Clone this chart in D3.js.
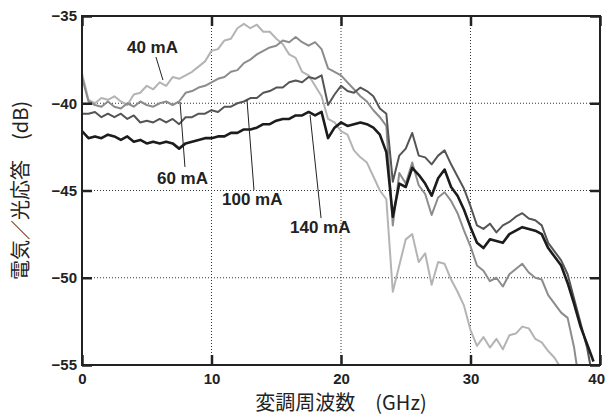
<!DOCTYPE html>
<html>
<head>
<meta charset="utf-8">
<script src="https://cdn.jsdelivr.net/npm/d3@7"></script>
<style>
  body { margin: 0; background: #fff; }
  .tick text { font-family: 'Liberation Sans', Arial, sans-serif; font-weight: bold; font-size: 15px; fill: #222; }
  .lbl { font-family: 'Liberation Sans', Arial, sans-serif; font-weight: bold; font-size: 17px; fill: #222; }
  .title { font-family: 'Noto Sans CJK JP', sans-serif; font-size: 20px; fill: #222; }
</style>
</head>
<body>
<div id="chart"></div>
<script>
var chart_width = 606
var chart_height = 415
var margin = {left: 82, right: 6, top: 16, bottom: 50}

// frequency grid, GHz
var freq = [0, 0.5, 1, 1.5, 2, 2.5, 3, 3.5, 4, 4.5, 5, 5.5, 6, 6.5, 7, 7.5, 8, 8.5, 9, 9.5,
  10, 10.5, 11, 11.5, 12, 12.5, 13, 13.5, 14, 14.5, 15, 15.5, 16, 16.5, 17, 17.5, 18, 18.5, 19, 19.5,
  20, 20.5, 21, 21.5, 22, 22.5, 23, 23.5, 24, 24.5, 25, 25.5, 26, 26.5, 27, 27.5, 28, 28.5, 29, 29.5,
  30, 30.5, 31, 31.5, 32, 32.5, 33, 33.5, 34, 34.5, 35, 35.5, 36, 36.5, 37, 37.5, 38, 38.5, 39, 39.5, 40]

// response in dB for each bias current
var ma40 = [-38.3, -39.8, -40.0, -39.7, -39.8, -39.6, -39.9, -40.1, -39.5, -39.4,
  -39.0, -39.2, -38.8, -39.0, -38.5, -38.6, -38.4, -38.2, -37.9, -37.6,
  -37.0, -36.9, -36.4, -36.3, -35.7, -35.45, -35.7, -35.5, -35.9, -35.9,
  -36.3, -36.6, -37.2, -37.4, -38.2, -38.4, -39.0, -39.6, -40.9, -41.1,
  -41.6, -41.8, -42.7, -43.1, -43.4, -44.2, -45.0, -45.5, -50.8, -49.3,
  -47.8, -47.5, -49.1, -48.6, -50.4, -49.1, -49.2, -50.1, -50.8, -51.6,
  -53.0, -53.9, -53.4, -54.0, -53.5, -54.1, -53.3, -53.2, -52.8, -52.9,
  -53.5, -53.7, -54.2, -54.6, -55.2, -56.0, null, null, null, null, null]

var ma60 = [-38.5, -39.9, -40.1, -40.2, -39.9, -40.2, -40.3, -40.0, -40.2, -39.9,
  -40.1, -40.2, -40.0, -39.9, -40.1, -39.9, -39.4, -39.3, -39.1, -39.0,
  -38.8, -38.6, -38.5, -38.2, -38.1, -37.7, -37.5, -37.2, -37.0, -36.8,
  -36.7, -36.4, -36.5, -36.2, -36.5, -36.7, -36.5, -36.9, -38.0, -38.2,
  -38.4, -38.8, -39.2, -39.6, -39.9, -40.4, -40.8, -41.3, -47.0, -44.0,
  -44.6, -43.4, -44.7, -45.2, -46.4, -45.4, -45.1, -45.6, -46.3, -47.3,
  -48.2, -49.3, -49.6, -50.2, -50.0, -50.5, -49.8, -49.5, -49.2, -49.7,
  -50.0, -50.1, -51.0, -51.5, -52.0, -52.3, -54.0, -56.5, null, null, null]

var ma100 = [-40.6, -40.6, -40.5, -40.8, -40.6, -40.8, -40.6, -40.9, -40.7, -41.1,
  -41.0, -41.1, -40.9, -41.1, -40.9, -41.2, -40.8, -40.8, -40.6, -40.6,
  -40.4, -40.5, -40.2, -40.2, -40.0, -39.9, -39.7, -39.7, -39.4, -39.3,
  -39.1, -39.1, -38.8, -38.7, -38.8, -38.5, -38.6, -38.4, -40.1, -39.5,
  -39.0, -39.3, -39.4, -39.1, -39.3, -39.6, -40.3, -40.6, -44.5, -43.0,
  -42.6, -41.7, -43.0, -43.1, -43.5, -43.0, -42.7, -43.5, -44.2, -44.9,
  -45.9, -47.0, -47.2, -46.9, -47.4, -47.0, -46.8, -46.5, -46.3, -46.6,
  -46.7, -47.0, -48.0, -48.5, -49.0, -49.8, -51.2, -52.6, -54.0, -56.0, null]

var ma140 = [-41.6, -42.0, -41.9, -42.0, -41.8, -41.9, -42.1, -41.9, -42.2, -42.1,
  -42.3, -42.2, -42.3, -42.2, -42.3, -42.6, -42.3, -42.2, -42.1, -42.0,
  -42.0, -41.9, -41.9, -41.7, -41.7, -41.5, -41.5, -41.4, -41.2, -41.2,
  -41.0, -40.9, -40.9, -40.7, -40.7, -40.5, -40.7, -40.5, -42.0, -41.4,
  -41.1, -41.3, -41.2, -41.1, -41.2, -41.4, -41.8, -42.8, -46.5, -44.6,
  -44.8, -43.7, -44.1, -44.6, -45.3, -44.3, -43.8, -44.8, -45.3, -46.1,
  -47.1, -48.0, -48.3, -47.8, -47.9, -48.0, -47.5, -47.3, -47.1, -47.2,
  -47.3, -47.5, -48.3, -48.8, -49.3, -50.3, -51.5, -52.8, -53.8, -54.8, null]

var series_names = ['40 mA', '60 mA', '100 mA', '140 mA']
var series_values = [ma40, ma60, ma100, ma140]
var series_colors = ['#b4b4b4', '#8c8c8c', '#555555', '#1c1c1c']
var series_widths = [2, 2, 2, 2.6]

var x_ticks = [0, 10, 20, 30, 40]
var y_ticks = [-55, -50, -45, -40, -35]

// label text position [GHz, dB] and leader line [GHz1, dB1, GHz2, dB2]
var label_pos = [[3.47, -37.12], [5.79, -44.63], [10.81, -45.83], [16.06, -47.44]]
var leader_pos = [[5.71, -37.35, 6.25, -38.67], [7.95, -43.65, 7.57, -39.93],
  [13.28, -44.97, 12.74, -39.81], [18.46, -46.58, 17.61, -40.67]]

var svg = d3.select('#chart')
  .append('svg')
  .attr('width', chart_width)
  .attr('height', chart_height)
  .style('background', '#fff')

var x_scale = d3.scaleLinear()
  .domain([0, 40])
  .range([margin.left, chart_width - margin.right])

var y_scale = d3.scaleLinear()
  .domain([-55, -35])
  .range([chart_height - margin.bottom, margin.top])

svg.append('clipPath')
  .attr('id', 'plot-clip')
  .append('rect')
  .attr('x', x_scale(0))
  .attr('y', y_scale(-35))
  .attr('width', x_scale(40) - x_scale(0))
  .attr('height', y_scale(-55) - y_scale(-35))

// dotted grid
svg.append('g')
  .selectAll('line')
  .data(x_ticks.slice(1, -1))
  .enter()
  .append('line')
  .attr('x1', d => x_scale(d))
  .attr('x2', d => x_scale(d))
  .attr('y1', y_scale(-55))
  .attr('y2', y_scale(-35))
  .attr('stroke', '#333')
  .attr('stroke-width', 1)
  .attr('stroke-dasharray', '1,2')

svg.append('g')
  .selectAll('line')
  .data(y_ticks.slice(1, -1))
  .enter()
  .append('line')
  .attr('x1', x_scale(0))
  .attr('x2', x_scale(40))
  .attr('y1', d => y_scale(d))
  .attr('y2', d => y_scale(d))
  .attr('stroke', '#333')
  .attr('stroke-width', 1)
  .attr('stroke-dasharray', '1,2')

// curves
var line = d3.line()
  .defined(d => d[1] !== null)
  .x(d => x_scale(d[0]))
  .y(d => y_scale(d[1]))

series_values.forEach(function(vals, i) {
  svg.append('path')
    .datum(freq.map((f, j) => [f, vals[j]]))
    .attr('clip-path', 'url(#plot-clip)')
    .attr('fill', 'none')
    .attr('stroke', series_colors[i])
    .attr('stroke-width', series_widths[i])
    .attr('stroke-linejoin', 'round')
    .attr('d', line)
})

// axes with inward ticks
var x_axis = d3.axisBottom(x_scale).tickValues(x_ticks).tickSize(-10).tickPadding(8)
svg.append('g')
  .attr('transform', 'translate(0, ' + y_scale(-55) + ')')
  .call(x_axis)
  .selectAll('text')
  .filter(d => d === 40)
  .attr('text-anchor', 'end')
  .attr('dx', '0.3em')

var y_axis = d3.axisLeft(y_scale).tickValues(y_ticks).tickSize(-10).tickPadding(5)
svg.append('g')
  .attr('transform', 'translate(' + x_scale(0) + ', 0)')
  .call(y_axis)

svg.append('g')
  .attr('transform', 'translate(0, ' + y_scale(-35) + ')')
  .call(d3.axisTop(x_scale).tickValues(x_ticks).tickSize(-10).tickFormat(''))

svg.append('g')
  .attr('transform', 'translate(' + x_scale(40) + ', 0)')
  .call(d3.axisRight(y_scale).tickValues(y_ticks).tickSize(-10).tickFormat(''))

svg.selectAll('.domain').remove()
svg.selectAll('.tick line')
  .attr('stroke', '#222')
  .attr('stroke-width', 2.5)

// frame
svg.append('rect')
  .attr('x', x_scale(0))
  .attr('y', y_scale(-35))
  .attr('width', x_scale(40) - x_scale(0))
  .attr('height', y_scale(-55) - y_scale(-35))
  .attr('fill', 'none')
  .attr('stroke', '#222')
  .attr('stroke-width', 2)

// labels with leaders
svg.append('g')
  .selectAll('line')
  .data(leader_pos)
  .enter()
  .append('line')
  .attr('x1', d => x_scale(d[0]))
  .attr('y1', d => y_scale(d[1]))
  .attr('x2', d => x_scale(d[2]))
  .attr('y2', d => y_scale(d[3]))
  .attr('stroke', '#222')
  .attr('stroke-width', 1)

svg.append('g')
  .selectAll('text')
  .data(series_names)
  .enter()
  .append('text')
  .attr('class', 'lbl')
  .attr('x', (d, i) => x_scale(label_pos[i][0]))
  .attr('y', (d, i) => y_scale(label_pos[i][1]))
  .text(d => d)

// axis titles
svg.append('text')
  .attr('class', 'title')
  .attr('x', x_scale(20))
  .attr('y', 410)
  .attr('text-anchor', 'middle')
  .text('変調周波数　(GHz)')

svg.append('text')
  .attr('class', 'title')
  .attr('transform', 'translate(28, ' + ((y_scale(-35) + y_scale(-55)) / 2) + ') rotate(-90)')
  .attr('text-anchor', 'middle')
  .text('電気／光応答　(dB)')
</script>
</body>
</html>
